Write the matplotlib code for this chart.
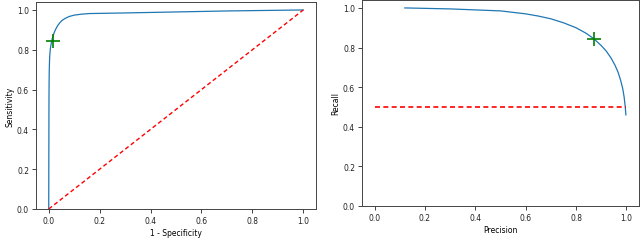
import matplotlib
matplotlib.use("Agg")
import matplotlib.pyplot as plt

# ROC curve
fpr = [0.0, 0.0005, 0.001, 0.0015, 0.002, 0.003, 0.004, 0.006, 0.008, 0.011, 0.014, 0.018, 0.022, 0.028, 0.035, 0.043, 0.052, 0.065, 0.08, 0.1, 0.13, 0.16, 0.3, 0.5, 0.7, 1.0]
tpr = [0.0, 0.3, 0.55, 0.64, 0.69, 0.74, 0.77, 0.80, 0.82, 0.84, 0.856, 0.873, 0.888, 0.905, 0.921, 0.935, 0.947, 0.958, 0.967, 0.974, 0.979, 0.982, 0.985, 0.99, 0.995, 1.0]
roc_point = (0.017, 0.845)

# Precision-recall curve
precision = [0.12, 0.3, 0.5, 0.6, 0.65, 0.7, 0.75, 0.8, 0.84, 0.87, 0.9, 0.92, 0.94, 0.955, 0.967, 0.977, 0.985, 0.991, 0.995, 0.998]
recall = [1.0, 0.995, 0.985, 0.97, 0.959, 0.945, 0.925, 0.9, 0.872, 0.845, 0.81, 0.782, 0.745, 0.71, 0.675, 0.635, 0.595, 0.55, 0.505, 0.46]
pr_point = (0.87, 0.845)
baseline = 0.5

fs = 5.5
plt.rcParams['font.size'] = fs
plt.rcParams['text.color'] = '#222222'
fig = plt.figure(figsize=(6.4, 2.51), dpi=100)

ax1 = fig.add_axes([36/640, 41/251, 280/640, 207/251])
ax1.plot(fpr, tpr, color='#1f77b4', lw=0.9)
ax1.plot([0, 1], [0, 1], color='red', ls=(0, (3, 2)), lw=1.0)
ax1.plot(*roc_point, marker='+', color='green', ms=10, mew=1.2)
ax1.set_xlim(-0.05, 1.05)
ax1.set_ylim(0, 1.04)
ax1.set_xlabel('1 - Specificity', fontsize=fs, labelpad=2)
ax1.set_ylabel('Sensitivity', fontsize=fs, labelpad=2)

ax2 = fig.add_axes([362/640, 44/251, 277/640, 206/251])
ax2.plot(precision, recall, color='#1f77b4', lw=0.9)
ax2.plot([0, 1], [baseline, baseline], color='red', ls=(0, (3, 2)), lw=1.2)
ax2.plot(*pr_point, marker='+', color='green', ms=10, mew=1.2)
ax2.set_xlim(-0.05, 1.05)
ax2.set_ylim(0, 1.04)
ax2.set_xlabel('Precision', fontsize=fs, labelpad=2)
ax2.set_ylabel('Recall', fontsize=fs, labelpad=2)

for ax in (ax1, ax2):
    ax.tick_params(labelsize=fs, length=3, width=0.6, pad=2, colors='#222222')
    for s in ax.spines.values():
        s.set_linewidth(0.7)
        s.set_color('#444444')

fig.savefig('out.png', dpi=100)
